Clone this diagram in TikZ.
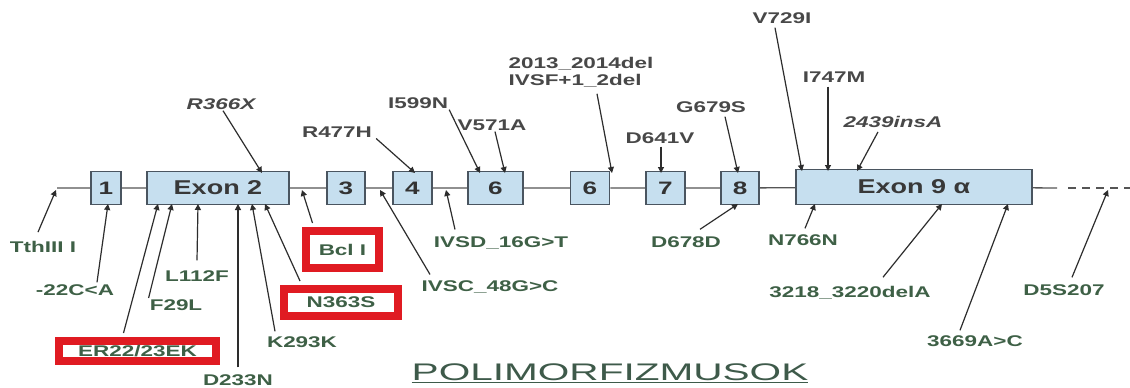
\documentclass[tikz,border=0pt]{standalone}
\usepackage{fontspec}
\setmainfont{Liberation Sans}
\newfontfamily\labfont{Liberation Sans}[FakeStretch=1.45]
\newfontfamily\numfont{Liberation Sans}[FakeStretch=1.45]
\newfontfamily\exfont{Liberation Sans}[FakeStretch=1.35]
\newfontfamily\titfont{Liberation Sans}[FakeStretch=1.69]
\usetikzlibrary{arrows.meta}
\definecolor{boxfill}{RGB}{198,223,239}
\definecolor{boxc}{RGB}{74,85,96}
\definecolor{arrc}{RGB}{45,45,45}
\definecolor{topc}{RGB}{72,72,72}
\definecolor{botc}{RGB}{62,96,70}
\definecolor{redc}{RGB}{224,27,34}
\definecolor{titc}{RGB}{62,90,74}
\definecolor{linec}{RGB}{85,85,85}
\tikzset{
  exbox/.style={draw=boxc, line width=1.5pt, fill=boxfill, minimum height=33pt, inner sep=0pt,
    text=black!80, font=\numfont\bfseries\fontsize{18}{20}\selectfont},
  extext/.style={font=\exfont\bfseries\fontsize{20}{22}\selectfont, text=black!78},
  toplab/.style={text=topc, inner sep=1pt, font=\labfont\bfseries\fontsize{15.5}{17}\selectfont},
  toplabit/.style={toplab, font=\labfont\bfseries\itshape\fontsize{15.5}{17}\selectfont},
  botlab/.style={text=botc, inner sep=1pt, font=\labfont\bfseries\fontsize{15.5}{17}\selectfont},
  redlab/.style={botlab, draw=redc, line width=8pt, inner sep=0pt},
  arr/.style={draw=arrc, line width=1.2pt, -{Triangle[length=6pt,width=6pt]}},
  mainline/.style={draw=linec, line width=1.3pt},
}
\begin{document}
\begin{tikzpicture}[x=1pt,y=-1pt]
\useasboundingbox (0,0) rectangle (1130,388);
\fill[white] (0,0) rectangle (1130,388);

% exon boxes
\node[exbox, minimum width=30pt] (b1) at (106,188) {1};
\node[exbox, minimum width=142pt, extext] (b2) at (218,188) {Exon 2\hspace{22pt}};
\node[exbox, minimum width=38pt] (b3) at (346,188) {3};
\node[exbox, minimum width=39pt] (b4) at (412.5,188) {4};
\node[exbox, minimum width=55pt] (b5) at (495.5,188) {6};
\node[exbox, minimum width=39pt] (b6) at (590,188) {6};
\node[exbox, minimum width=39pt] (b7) at (665.5,188) {7};
\node[exbox, minimum width=38pt] (b8) at (740,188) {8};
\node[exbox, minimum width=236pt, minimum height=35pt, extext] (b9) at (914,187) {Exon 9 α\hspace{12pt}};

% main line
\coordinate (lstart) at (57,188);
\coordinate (lend) at (1057,188);
\coordinate (dstart) at (1068,188);
\coordinate (dend) at (1130,188);
\draw[mainline] (lstart) -- (b1) -- (b2) -- (b3) -- (b4) -- (b5) -- (b6) -- (b7) -- (b8) -- (b9) -- (lend);
\draw[mainline, dash pattern=on 8pt off 6pt] (dstart) -- (dend);

% top labels
\node[toplabit] (lR366X) at (221,104) {R366X};
\node[toplab] (lR477H) at (337,132) {R477H};
\node[toplab] (lI599N) at (418,103) {I599N};
\node[toplab] (lV571A) at (492,125) {V571A};
\node[toplab, align=left, font=\labfont\bfseries\fontsize{15.5}{17}\selectfont] (l2013) at (581,72.5) {2013\_2014del\\IVSF+1\_2del};
\node[toplab] (lD641V) at (660,138) {D641V};
\node[toplab] (lG679S) at (711,107) {G679S};
\node[toplab] (lV729I) at (782,18) {V729I};
\node[toplab] (lI747M) at (834,77) {I747M};
\node[toplabit] (l2439) at (893,122) {2439insA};

% bottom labels
\node[botlab] (lTth) at (43,247) {TthIII I};
\node[botlab] (l22) at (75,290) {-22C<A};
\node[botlab] (lL112) at (197,276) {L112F};
\node[botlab] (lF29) at (176,305) {F29L};
\node[redlab, minimum width=157pt, minimum height=20pt] (rER) at (137.5,351) {ER22/23EK};
\node[botlab] (lD233) at (238,380) {D233N};
\node[botlab] (lK293) at (302,342) {K293K};
\node[redlab, minimum width=114pt, minimum height=27pt] (rN363) at (341,302.5) {N363S};
\node[redlab, minimum width=73pt, minimum height=37pt] (rBcl) at (342.5,249.5) {Bcl I};
\node[botlab] (lIVSC) at (490,287) {IVSC\_48G>C};
\node[botlab] (lIVSD) at (501,243) {IVSD\_16G>T};
\node[botlab] (lD678) at (686,242) {D678D};
\node[botlab] (lN766) at (803,240) {N766N};
\node[botlab] (l3218) at (850,293) {3218\_3220delA};
\node[botlab] (l3669) at (975,341) {3669A>C};
\node[botlab] (lD5S) at (1064,290) {D5S207};

% title
\node[text=titc, font=\titfont\fontsize{24}{26}\selectfont, inner sep=0pt] (title) at (610,373) {\underline{POLIMORFIZMUSOK}};

% arrow targets
\coordinate (eR366X) at (262,173);
\coordinate (eR477H) at (415,173);
\coordinate (eI599N) at (480,173);
\coordinate (eV571A) at (505,173);
\coordinate (e2013) at (612,173);
\coordinate (eD641V) at (661,173);
\coordinate (eG679S) at (738,173);
\coordinate (eV729I) at (802,171);
\coordinate (eI747M) at (828,171);
\coordinate (e2439) at (857,171);
\coordinate (eTth) at (56,190);
\coordinate (e22) at (108,204);
\coordinate (eL112) at (198,204);
\coordinate (eF29) at (172,204);
\coordinate (eER) at (158,204);
\coordinate (eD233) at (238,204);
\coordinate (eK293) at (252,204);
\coordinate (eN363) at (265,204);
\coordinate (eBcl) at (302,190);
\coordinate (eIVSC) at (380,190);
\coordinate (eIVSD) at (446,190);
\coordinate (eD678) at (738,204);
\coordinate (eN766) at (815,204);
\coordinate (e3218) at (942,204);
\coordinate (e3669) at (1008,204);
\coordinate (eD5S) at (1108,190);

% arrows (top)
\draw[arr] ([xshift=2pt]lR366X.south) -- (eR366X);
\draw[arr] ([xshift=3pt]lR477H.south east) -- (eR477H);
\draw[arr] (lI599N.south east) -- (eI599N);
\draw[arr] ([xshift=3pt]lV571A.south) -- (eV571A);
\draw[arr] ([xshift=16pt,yshift=-5pt]l2013.south) -- (e2013);
\draw[arr] ([xshift=1pt,yshift=-2pt]lD641V.south) -- (eD641V);
\draw[arr] ([xshift=14pt,yshift=-3pt]lG679S.south) -- (eG679S);
\draw[arr] ([xshift=-7pt,yshift=-3pt]lV729I.south) -- (eV729I);
\draw[arr] ([xshift=-6pt,yshift=-3pt]lI747M.south) -- (eI747M);
\draw[arr] ([xshift=-15pt,yshift=-3pt]l2439.south) -- (e2439);

% arrows (bottom)
\draw[arr] ([xshift=-5pt,yshift=8pt]lTth.north) -- (eTth);
\draw[arr] ([xshift=22pt,yshift=1pt]l22.north) -- (e22);
\draw[arr] ([yshift=9pt]lL112.north) -- (eL112);
\draw[arr] ([yshift=7pt]lF29.west) -- (eF29);
\draw[arr] ([xshift=-14pt,yshift=4pt]rER.north) -- (eER);
\draw[arr] ([yshift=6pt]lD233.north) -- (eD233);
\draw[arr] ([xshift=-27pt,yshift=4pt]lK293.north) -- (eK293);
\draw[arr] ([xshift=-41pt,yshift=4pt]rN363.north) -- (eN363);
\draw[arr] ([xshift=-30pt,yshift=4pt]rBcl.north) -- (eBcl);
\draw[arr] ([xshift=-60pt,yshift=5pt]lIVSC.north) -- (eIVSC);
\draw[arr] ([xshift=-46pt,yshift=6pt]lIVSD.north) -- (eIVSD);
\draw[arr] ([xshift=14pt,yshift=6pt]lD678.north) -- (eD678);
\draw[arr] ([xshift=2pt,yshift=5pt]lN766.north) -- (eN766);
\draw[arr] ([xshift=33pt,yshift=8pt]l3218.north) -- (e3218);
\draw[arr] ([xshift=-15pt,yshift=4pt]l3669.north) -- (e3669);
\draw[arr] ([xshift=8pt,yshift=6pt]lD5S.north) -- (eD5S);
\end{tikzpicture}
\end{document}
